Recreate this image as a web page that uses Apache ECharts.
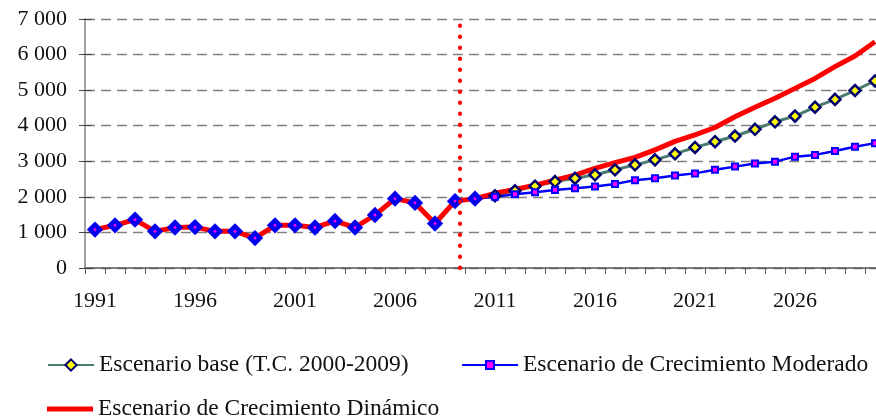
<!DOCTYPE html>
<html>
<head>
<meta charset="utf-8">
<script src="https://cdn.jsdelivr.net/npm/echarts@6/dist/echarts.min.js"></script>
<style>
html,body{margin:0;padding:0;background:#fff;}
#chart{width:876px;height:419px;}
</style>
</head>
<body>
<div id="chart"></div>
<script>
// ---- data ----
const years = [];
for (let y = 1991; y <= 2030; y++) years.push(String(y));

const historico = [1080, 1200, 1360, 1030, 1140, 1150, 1030, 1030, 840, 1200,
                   1200, 1140, 1320, 1140, 1490, 1950, 1830, 1250, 1880, 1950];

const escenarioBase = [1950, 2030, 2170, 2300, 2430, 2520, 2620, 2760, 2900, 3040,
                       3210, 3390, 3550, 3710, 3900, 4110, 4270, 4520, 4740, 4990, 5260];

const escenarioModerado = [1950, 2000, 2070, 2130, 2190, 2240, 2290, 2360, 2470, 2520,
                           2600, 2660, 2760, 2850, 2940, 2990, 3130, 3180, 3290, 3410, 3510];

const escenarioDinamicoProy = [2100, 2210, 2330, 2470, 2610, 2800, 2960, 3110, 3320, 3560,
                               3740, 3950, 4250, 4520, 4770, 5050, 5330, 5660, 5960, 6360];

const yTicks = { min: 0, max: 7000, interval: 1000 };
const cutoffPosition = 18.75; // position of dotted divider in category bands
const names = {
  base: 'Escenario base (T.C. 2000-2009)',
  moderado: 'Escenario de Crecimiento Moderado',
  dinamico: 'Escenario de Crecimiento Dinámico',
  hist: 'Histórico'
};

// ---- build series arrays ----
const projStartIdx = years.indexOf('2010');
const pad = n => new Array(n).fill(null);
const histData = historico.concat(pad(years.length - historico.length));
const baseData = pad(projStartIdx).concat(escenarioBase);
const modData = pad(projStartIdx).concat(escenarioModerado);
const dinData = historico.concat(escenarioDinamicoProy);

const fontFam = '"Liberation Serif", "Times New Roman", serif';
const fmt = v => String(v).replace(/\B(?=(\d{3})+(?!\d))/g, ' ');
const legendText = { fontSize: 23.5, fontFamily: fontFam, color: '#111' };

const chart = echarts.init(document.getElementById('chart'));
chart.setOption({
  animation: false,
  backgroundColor: '#fff',
  grid: { left: 85, top: 19, width: 800, height: 249, containLabel: false, outerBoundsMode: 'none' },
  xAxis: [{
    type: 'category',
    data: years,
    boundaryGap: true,
    axisLine: { lineStyle: { color: '#555', width: 1.5 } },
    axisTick: { show: true, interval: 0, length: 6, lineStyle: { color: '#555', width: 1 } },
    axisLabel: { interval: 4, margin: 22, color: '#111', fontSize: 22, fontFamily: fontFam },
    splitLine: { show: false }
  }, {
    type: 'value', min: 0, max: 40, show: false
  }],
  yAxis: [{
    type: 'value',
    min: yTicks.min, max: yTicks.max, interval: yTicks.interval,
    axisLine: { show: true, lineStyle: { color: '#a0a0a0', width: 2 } },
    axisTick: { show: true, length: 6, lineStyle: { color: '#444', width: 1 } },
    axisLabel: { margin: 18, color: '#111', fontSize: 22, fontFamily: fontFam, formatter: fmt },
    splitLine: { show: true, lineStyle: { color: '#808080', width: 1.3, type: [10, 6] } }
  }, {
    type: 'value',
    min: yTicks.min, max: yTicks.max, interval: yTicks.interval,
    position: 'left',
    axisLine: { show: false },
    axisTick: { show: true, inside: true, length: 7, lineStyle: { color: '#444', width: 1 } },
    axisLabel: { show: false },
    splitLine: { show: false }
  }],
  legend: [{
    data: [names.base], left: 42, top: 348, itemWidth: 46, itemHeight: 14,
    textStyle: legendText
  }, {
    data: [names.moderado], left: 456, top: 348, itemWidth: 56, itemHeight: 10,
    textStyle: legendText
  }, {
    data: [{ name: names.dinamico, icon: 'rect' }], left: 42, top: 392, itemWidth: 46, itemHeight: 5,
    textStyle: legendText
  }],
  series: [{
    name: names.base, type: 'line', data: baseData,
    symbol: 'diamond', symbolSize: 11, showAllSymbol: true,
    lineStyle: { color: '#4a7b6f', width: 3 },
    itemStyle: { color: '#ffff00', borderColor: '#000070', borderWidth: 2.5 }
  }, {
    name: names.moderado, type: 'line', data: modData,
    symbol: 'rect', symbolSize: 6, showAllSymbol: true,
    lineStyle: { color: '#0000ff', width: 2.5 },
    itemStyle: { color: '#ff00ff', borderColor: '#0000ff', borderWidth: 2 }
  }, {
    name: names.dinamico, type: 'line', data: dinData,
    symbol: 'none',
    lineStyle: { color: '#ff0000', width: 5 },
    itemStyle: { color: '#ff0000' }
  }, {
    name: names.hist, type: 'line', data: histData,
    symbol: 'diamond', symbolSize: 10, showAllSymbol: true,
    lineStyle: { width: 0, opacity: 0 },
    itemStyle: { color: '#ff00ff', borderColor: '#0000ee', borderWidth: 4.5 }
  }, {
    name: 'divisor', type: 'line', xAxisIndex: 1, data: [],
    markLine: {
      symbol: 'none', silent: true, label: { show: false },
      lineStyle: { color: '#ff0000', width: 4, type: [0.5, 10.5], cap: 'round' },
      data: [{ xAxis: cutoffPosition }]
    }
  }]
});
</script>
</body>
</html>
